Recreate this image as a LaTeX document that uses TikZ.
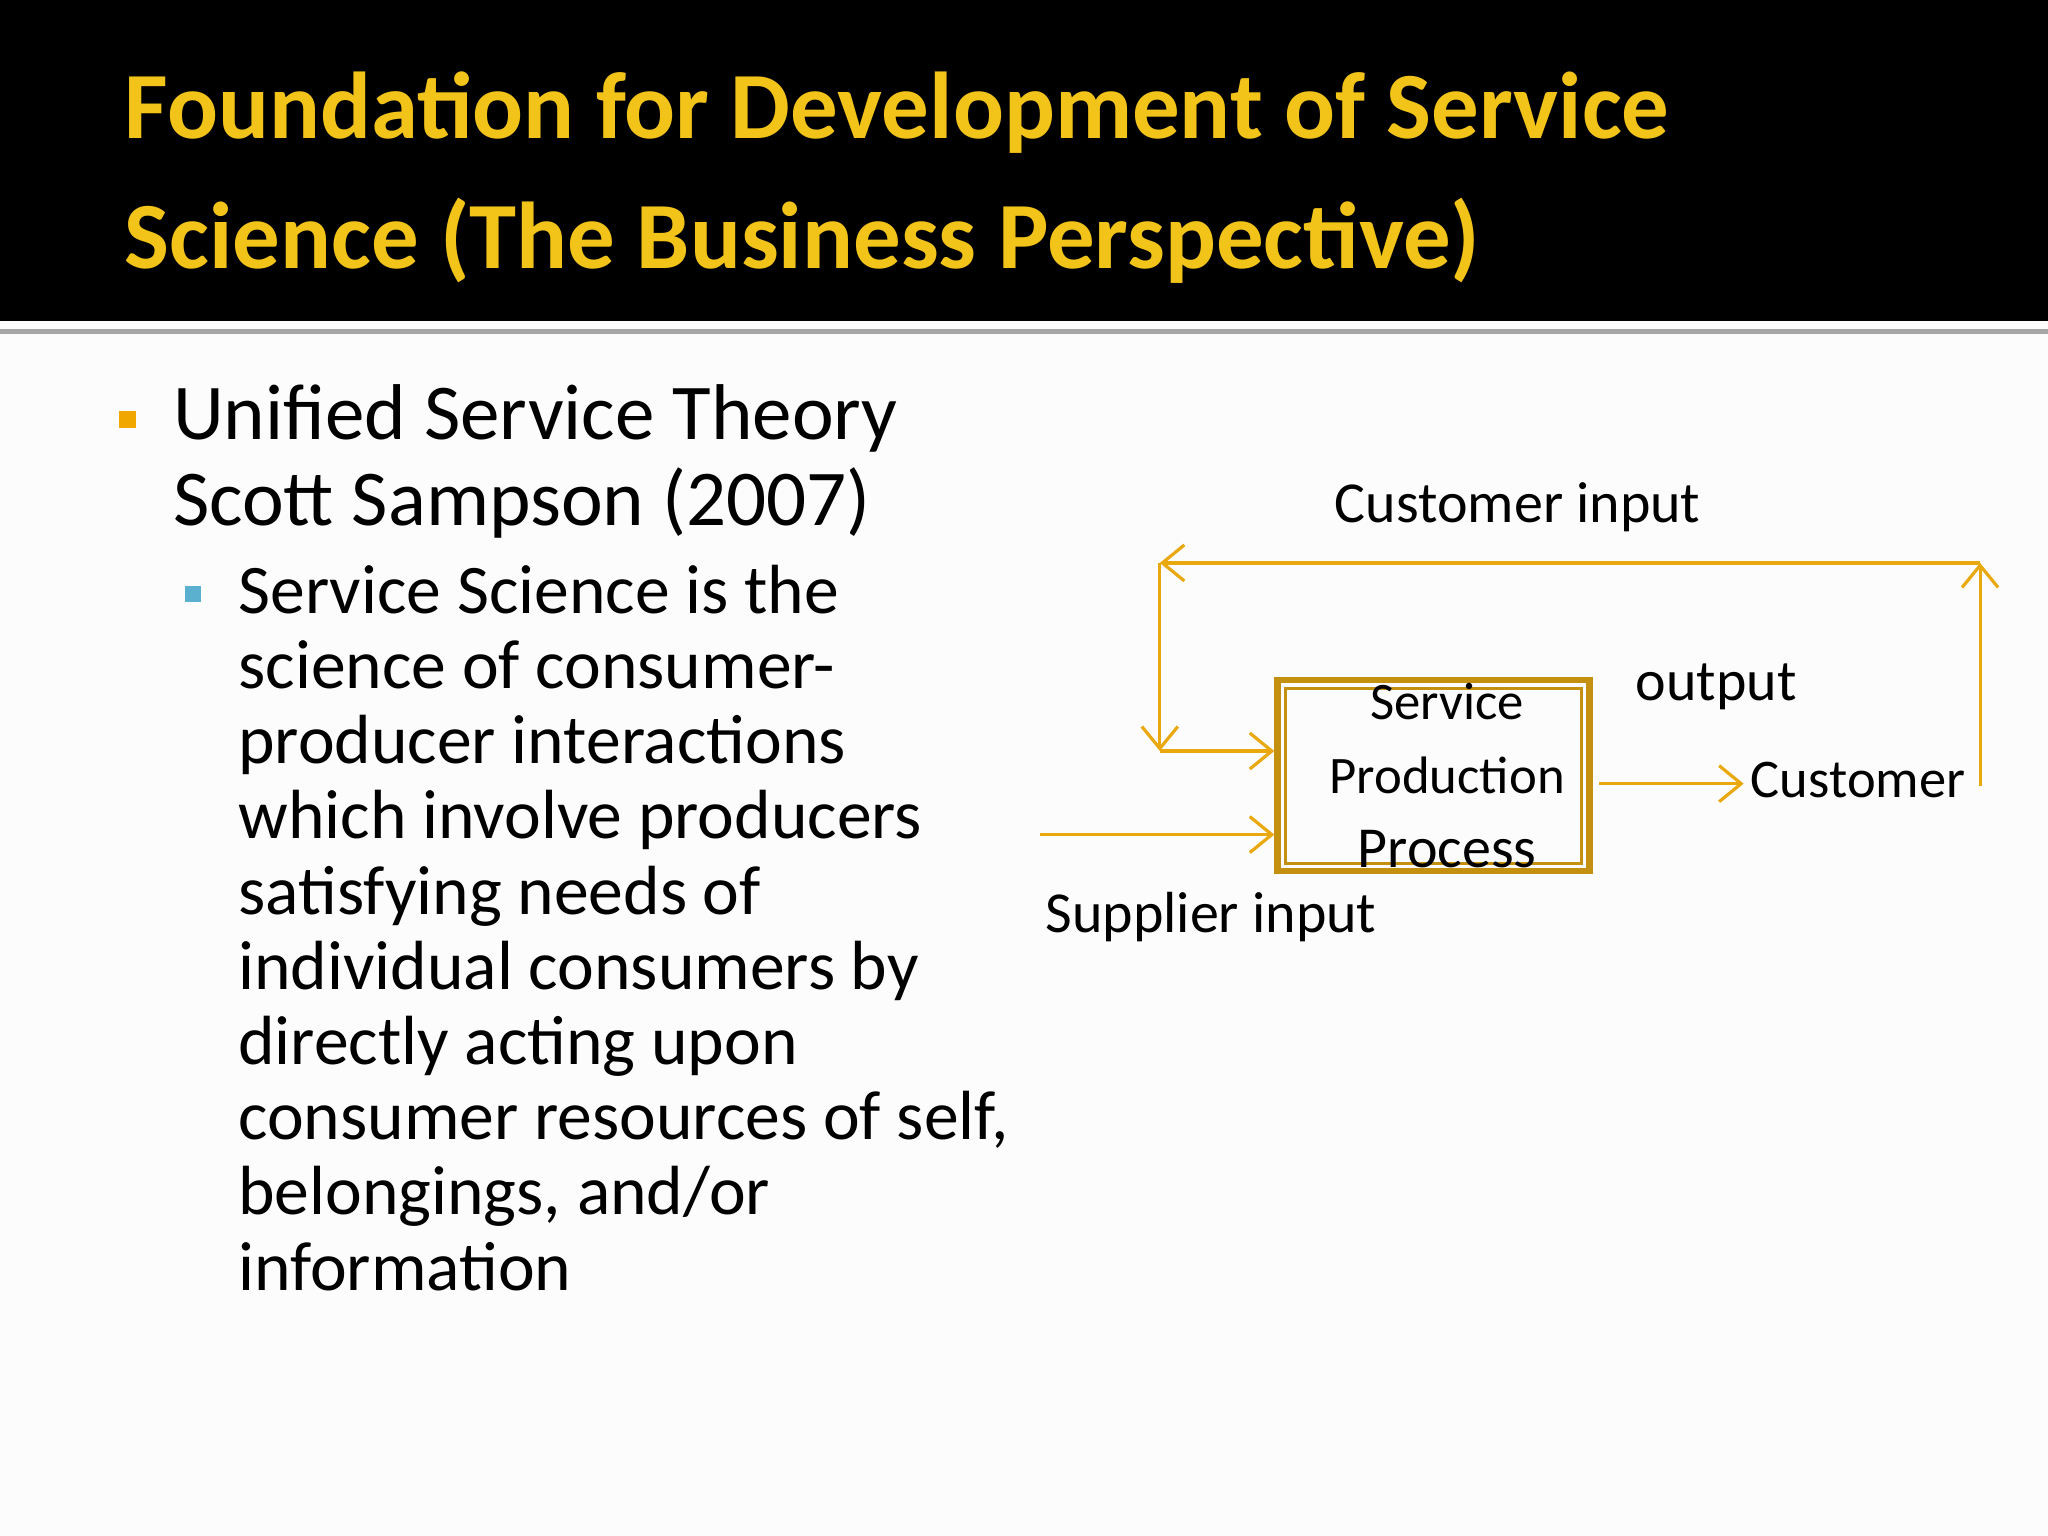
\documentclass[tikz,border=0pt]{standalone}
\usepackage{fontspec}
\setmainfont{Carlito}
\usetikzlibrary{arrows.meta}
\definecolor{ttl}{HTML}{F2C318}
\definecolor{gl}{HTML}{E9A90E}
\definecolor{bx}{HTML}{C49010}
\definecolor{b1}{HTML}{F0A800}
\definecolor{b2}{HTML}{5BAFCF}
\tikzset{ln/.style={draw=gl,line width=0.9pt,-{Straight Barb[length=2.2mm,width=3.6mm]}},
 dtxt/.style={font=\fontsize{16.5}{20}\selectfont,text=black,inner sep=0pt}}
\begin{document}
\begin{tikzpicture}[x={(0.013061cm,0)},y={(0,-0.013061cm)}]
\useasboundingbox (0,0) rectangle (1568,1176);
\fill[white!98!gray] (0,0) rectangle (1568,1176);
\fill[black] (0,0) rectangle (1568,246);
\draw[gray!70,line width=1.5pt] (0,254) -- (1568,254);
\node[anchor=west,text=ttl,font=\fontsize{27}{33}\selectfont\bfseries,align=left,inner sep=0pt] (title) at (95,136)
 {Foundation for Development of Service\\[4pt]Science (The Business Perspective)};
\fill[b1] (91,315) rectangle (104,328);
\node[anchor=north west,inner sep=0pt,align=left,font=\fontsize{22.5}{24.5}\selectfont] (l1) at (132,294)
 {Unified Service Theory\\Scott Sampson (2007)};
\fill[b2] (142,449) rectangle (154,461);
\node[anchor=north west,inner sep=0pt,align=left,font=\fontsize{19.8}{21.4}\selectfont] (l2) at (182,432)
 {Service Science is the\\science of consumer-\\producer interactions\\which involve producers\\satisfying needs of\\individual consumers by\\directly acting upon\\consumer resources of self,\\belongings, and/or\\information};
% diagram
\node[draw=bx,line width=1.8pt,inner sep=0pt,
  minimum width=3.12cm,minimum height=1.91cm] (box) at (1097.5,594) {};
\draw[draw=bx,line width=0.9pt] ([shift={(0.11cm,-0.11cm)}]box.north west) rectangle ([shift={(-0.11cm,0.11cm)}]box.south east);
\node[dtxt,align=center,font=\fontsize{15}{17}\selectfont] (bt) at (1108,594) {Service\\[4pt]Production\\[4pt]\fontsize{16.5}{17}\selectfont Process};
\coordinate (tr) at (1516,431);
\coordinate (tl) at (888,431);
\coordinate (br) at (1516,602);
\coordinate (lb) at (888,575);
\coordinate (sup) at (796,639);
\coordinate (out1) at (1224,600);
\coordinate (out2) at (1335,600);
\draw[ln] (br) -- (tr);
\draw[ln] (tr) -- (tl);
\draw[ln] (tl) -- (lb);
\draw[ln] (lb) -- (lb -| box.west);
\draw[ln] (sup) -- (sup -| box.west);
\draw[ln] (out1) -- (out2);
\node[dtxt] (ci) at (1162,388) {Customer input};
\node[dtxt] (op) at (1314,526) {output};
\node[dtxt,font=\fontsize{15.5}{20}\selectfont,anchor=west] (cu) at (1340,597) {Customer};
\node[dtxt,anchor=west] (si) at (800,702) {Supplier input};
\end{tikzpicture}
\end{document}
